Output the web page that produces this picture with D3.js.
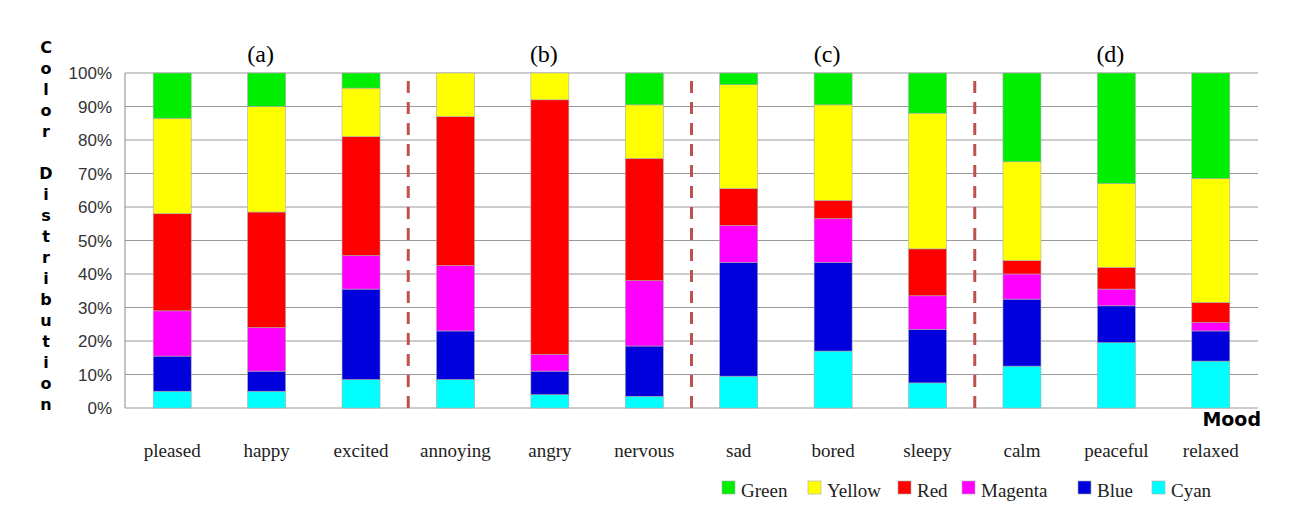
<!DOCTYPE html>
<html><head><meta charset="utf-8">
<script src="https://cdn.jsdelivr.net/npm/d3@7"></script>
<style>body{margin:0;background:#fff}</style>
</head><body><div id="chart"></div>
<script>
const moods = ["pleased","happy","excited","annoying","angry","nervous","sad","bored","sleepy","calm","peaceful","relaxed"];
const cyan    = [5, 5, 8.5, 8.5, 4, 3.5, 9.5, 17, 7.5, 12.5, 19.5, 14];
const blue    = [10.5, 6, 27, 14.5, 7, 15, 34, 26.5, 16, 20, 11, 9];
const magenta = [13.5, 13, 10, 19.5, 5, 19.5, 11, 13, 10, 7.5, 5, 2.5];
const red     = [29, 34.5, 35.5, 44.5, 76, 36.5, 11, 5.5, 14, 4, 6.5, 6];
const yellow  = [28.5, 31.5, 14.5, 13, 8, 16, 31, 28.5, 40.5, 29.5, 25, 37];
const green   = [13.5, 10, 4.5, 0, 0, 9.5, 3.5, 9.5, 12, 26.5, 33, 31.5];
const groups = ["(a)","(b)","(c)","(d)"];
const yTicks = [0,10,20,30,40,50,60,70,80,90,100];

const series = [
  {name:"Cyan", color:"#00ffff", values:cyan},
  {name:"Blue", color:"#0000dd", values:blue},
  {name:"Magenta", color:"#ff00ff", values:magenta},
  {name:"Red", color:"#ff0000", values:red},
  {name:"Yellow", color:"#ffff00", values:yellow},
  {name:"Green", color:"#00ee00", values:green}
];
const rows = moods.map((m,i)=>{const r={mood:m};series.forEach(s=>r[s.name]=s.values[i]);return r;});
const stack = d3.stack().keys(series.map(s=>s.name))(rows);

const W=1298,H=514, pLeft=125, pRight=1258, pTop=73, pBottom=408;
const svg = d3.select("#chart").append("svg").attr("width",W).attr("height",H);
const serif = "'Liberation Serif','DejaVu Serif',serif";

const x = d3.scaleBand().domain(moods).range([pLeft,pRight]);
const y = d3.scaleLinear().domain([0,100]).range([pBottom,pTop]);

// grid
svg.append("g").selectAll("line").data(yTicks).join("line")
  .attr("x1",pLeft).attr("x2",pRight).attr("y1",d=>y(d)).attr("y2",d=>y(d))
  .attr("stroke","#999").attr("stroke-width",1);
svg.append("line").attr("x1",pLeft).attr("x2",pLeft).attr("y1",pTop).attr("y2",pBottom).attr("stroke","#888");

svg.append("g").selectAll("text").data(yTicks).join("text")
  .attr("x",112).attr("y",d=>y(d)+6).attr("text-anchor","end")
  .style("font-family","'Liberation Sans',Arial,sans-serif").style("font-size","17px").attr("fill","#333")
  .text(d=>d+"%");

// bars
const bw = 38;
svg.append("g").selectAll("g").data(stack).join("g")
  .attr("fill",(d,i)=>series[i].color)
  .selectAll("rect").data(d=>d).join("rect")
  .attr("x",d=>x(d.data.mood)+x.bandwidth()/2-bw/2)
  .attr("width",bw)
  .attr("y",d=>y(d[1])).attr("height",d=>y(d[0])-y(d[1]))
  .attr("stroke","#aaa").attr("stroke-width",0.6);

// dashed separators
[3,6,9].forEach(i=>{
  svg.append("line").attr("x1",x(moods[i])).attr("x2",x(moods[i]))
    .attr("y1",pTop+8).attr("y2",pBottom).attr("stroke","#c0504d")
    .attr("stroke-width",3).attr("stroke-dasharray","12,9");
});

// group labels
groups.forEach((g,i)=>{
  svg.append("text").attr("x",x(moods[i*3+1])+x.bandwidth()/2-6).attr("y",62)
    .attr("text-anchor","middle").style("font-family",serif).style("font-size","24px").text(g);
});

// category labels
svg.append("g").selectAll("text").data(moods).join("text")
  .attr("x",d=>x(d)+x.bandwidth()/2).attr("y",457).attr("text-anchor","middle")
  .style("font-family",serif).style("font-size","19px").attr("fill","#222").text(d=>d);

// y title, stacked letters
const title = "Color Distribution".split("");
svg.append("g").selectAll("text").data(title).join("text")
  .attr("x",46).attr("y",(d,i)=>53+i*21).attr("text-anchor","middle")
  .style("font-family","'DejaVu Sans',sans-serif").style("font-weight","bold").style("font-size","16px")
  .text(d=>d);

svg.append("text").attr("x",1261).attr("y",426).attr("text-anchor","end")
  .style("font-family","'DejaVu Sans',sans-serif").style("font-weight","bold").style("font-size","19px").text("Mood");

// legend
const legendX = [722,808,898,962,1078,1152];
const legendOrder = ["Green","Yellow","Red","Magenta","Blue","Cyan"];
legendOrder.forEach((n,i)=>{
  const s = series.find(d=>d.name===n);
  svg.append("rect").attr("x",legendX[i]).attr("y",481).attr("width",13).attr("height",13)
    .attr("fill",s.color).attr("stroke","#aaa").attr("stroke-width",0.6);
  svg.append("text").attr("x",legendX[i]+19).attr("y",497)
    .style("font-family",serif).style("font-size","19px").attr("fill","#222").text(n);
});
</script></body></html>
